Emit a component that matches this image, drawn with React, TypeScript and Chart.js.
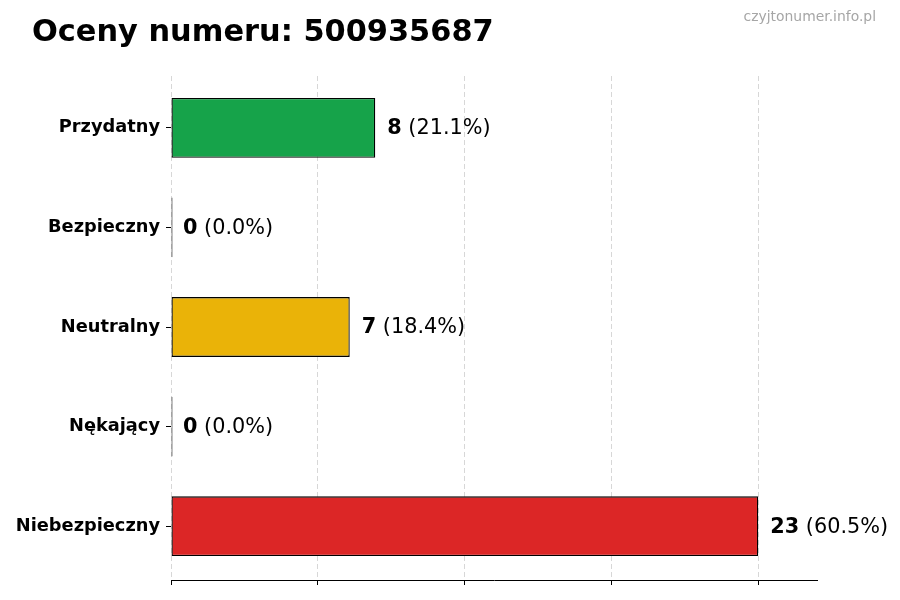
import { useEffect, useRef } from "react";
import { Chart, ChartConfiguration, Plugin, registerables } from "chart.js";

Chart.register(...registerables);

const categories = [
  "Przydatny",
  "Bezpieczny",
  "Neutralny",
  "Nękający",
  "Niebezpieczny",
];
const counts = [8, 0, 7, 0, 23];
const barColors = ["#16a34a", "#16a34a", "#eab308", "#9ca3af", "#dc2626"];
// x grid positions (matplotlib auto ticks spread over 0..max)
const xTicks = [0, 5.75, 11.5, 17.25, 23];
const xMax = 25.3;

const titleText = "Oceny numeru: 500935687";
const watermark = "czyjtonumer.info.pl";

const FONT = "'DejaVu Sans', sans-serif";

const total = counts.reduce((a, b) => a + b, 0);

const textPlugin: Plugin<"bar"> = {
  id: "texts",
  afterDatasetsDraw(chart) {
    const { ctx } = chart;
    const xScale = chart.scales.x;
    const meta = chart.getDatasetMeta(0);
    ctx.save();
    ctx.textBaseline = "middle";
    ctx.textAlign = "left";
    ctx.fillStyle = "#000";
    meta.data.forEach((bar, i) => {
      const x = xScale.getPixelForValue(counts[i]) + 12;
      const y = bar.y + 1;
      const num = String(counts[i]);
      const pct = total ? ((counts[i] / total) * 100).toFixed(1) : "0.0";
      ctx.font = `bold 20.8px ${FONT}`;
      ctx.fillText(num, x, y);
      const w = ctx.measureText(num).width;
      ctx.font = `20.8px ${FONT}`;
      ctx.fillText(` (${pct}%)`, x + w, y);
    });
    ctx.restore();
  },
  afterDraw(chart) {
    const { ctx } = chart;
    ctx.save();
    ctx.textBaseline = "alphabetic";
    ctx.fillStyle = "#000";
    ctx.textAlign = "left";
    ctx.font = `bold 30.4px ${FONT}`;
    ctx.fillText(titleText, 32, 41);
    ctx.fillStyle = "#a6a6a6";
    ctx.textAlign = "right";
    ctx.font = `13.9px ${FONT}`;
    ctx.fillText(watermark, 876, 21);
    ctx.restore();
  },
};

function RatingsChart() {
  const canvasRef = useRef<HTMLCanvasElement | null>(null);

  useEffect(() => {
    document.body.style.margin = "0";
    if (!canvasRef.current) return;

    const config: ChartConfiguration<"bar"> = {
      type: "bar",
      data: {
        labels: categories,
        datasets: [
          {
            data: counts.map((v, i) => ({ x: v, y: i })) as any,
            backgroundColor: barColors,
            borderColor: "#000",
            borderWidth: 1.3,
            borderSkipped: false,
            barPercentage: 0.6,
            categoryPercentage: 1,
            minBarLength: 1.5,
          },
        ],
      },
      options: {
        indexAxis: "y",
        animation: false,
        responsive: false,
        devicePixelRatio: 1,
        layout: { padding: { top: 76, right: 83, bottom: 0, left: 0 } },
        plugins: {
          legend: { display: false },
          tooltip: { enabled: false },
          title: { display: false },
        },
        scales: {
          x: {
            type: "linear",
            min: 0,
            max: xMax,
            z: 1,
            afterBuildTicks: (scale) => {
              scale.ticks = xTicks.map((v) => ({ value: v }));
            },
            afterFit: (scale) => {
              scale.height = 20;
            },
            ticks: { display: false },
            grid: {
              color: "rgba(176,176,176,0.5)",
              lineWidth: 1,
              drawTicks: true,
              tickLength: 5,
              tickColor: "#000",
              tickWidth: 1,
            },
            border: { display: true, color: "#000", width: 1, dash: [5, 3] },
          },
          y: {
            type: "linear",
            reverse: true,
            offset: false,
            min: -0.52,
            max: categories.length - 1 + 0.54,
            afterBuildTicks: (scale) => {
              scale.ticks = categories.map((_, i) => ({ value: i }));
            },
            afterFit: (scale) => {
              scale.width = 171;
            },
            ticks: {
              color: "#000",
              padding: 6,
              font: { family: FONT, size: 17.8, weight: "bold" },
              callback: (v) => categories[Number(v)] ?? "",
            },
            grid: {
              offset: false,
              drawOnChartArea: false,
              drawTicks: true,
              tickLength: 5,
              tickColor: "#000",
              tickWidth: 1,
            },
            border: { display: false },
          },
        },
      },
      plugins: [textPlugin],
    };

    const chart = new Chart(canvasRef.current, config);
    return () => {
      chart.destroy();
    };
  }, []);

  return (
    <div style={{ width: 900, height: 600, background: "#fff" }}>
      <canvas ref={canvasRef} width={900} height={600} />
    </div>
  );
}

export default function App() {
  return <RatingsChart />;
}
